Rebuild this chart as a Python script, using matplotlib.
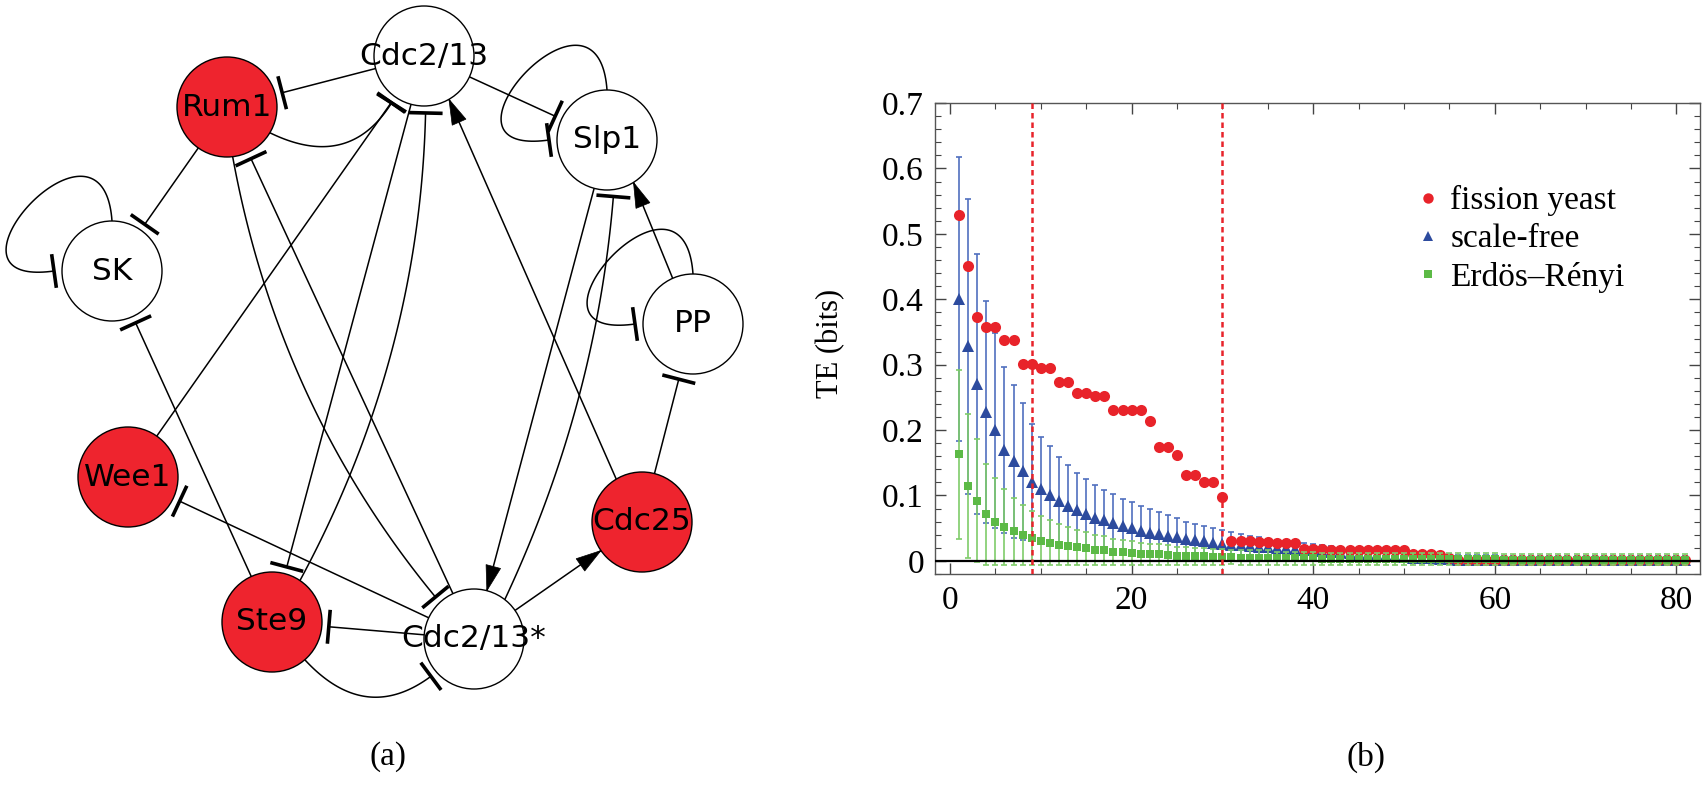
import numpy as np
import matplotlib
matplotlib.use("Agg")
import matplotlib.pyplot as plt
from matplotlib.patches import Circle, Polygon
from matplotlib.lines import Line2D
from matplotlib.ticker import MultipleLocator, FuncFormatter

plt.rcParams["font.family"] = ["Liberation Serif", "DejaVu Serif"]

# ---------------- (a) regulatory network, layout in image pixels ----------------
NODES = ["Cdc2/13", "Rum1", "Slp1", "SK", "PP", "Wee1", "Cdc25", "Ste9", "Cdc2/13*"]
NODE_X = [424, 227, 607, 112, 693, 128, 642, 272, 474]
NODE_Y = [56, 107, 140, 271, 324, 477, 522, 622, 639]
RED_NODES = ["Rum1", "Wee1", "Cdc25", "Ste9"]

# source, target, kind ('|' inhibition, '>' activation), source port, target port, bend
EDGES = [
    ("Cdc2/13", "Rum1", "|", None, None, 0),
    ("Cdc2/13", "Slp1", "|", None, None, 0),
    ("Rum1", "SK", "|", None, None, 0),
    ("Ste9", "SK", "|", None, None, 0),
    ("Wee1", "Cdc2/13", "|", None, None, 0),
    ("Cdc25", "Cdc2/13", ">", -121, 60, 0),
    ("Cdc2/13*", "Wee1", "|", None, None, 0),
    ("Cdc2/13*", "Ste9", "|", None, None, 0),
    ("Cdc2/13*", "Rum1", "|", None, None, 0),
    ("Cdc2/13*", "Cdc25", ">", None, None, 0),
    ("Slp1", "Cdc2/13*", ">", None, None, 0),
    ("Cdc25", "PP", "|", None, None, 0),
    ("PP", "Slp1", ">", -114, 58, 0),
    ("Cdc2/13", "Ste9", "|", None, None, 0),
    ("Ste9", "Cdc2/13", "|", -56, 88, 0.12),
    ("Rum1", "Cdc2/13", "|", 31, 125, 0.45),
    ("Rum1", "Cdc2/13*", "|", 83.5, -133, 0.13),
    ("Ste9", "Cdc2/13*", "|", 49, 138.5, 0.45),
    ("Cdc2/13*", "Slp1", "|", -52, 82, 0.09),
]
SELF_LOOPS = ["SK", "Slp1", "PP"]

# ---------------- (b) transfer entropy vs lag ----------------
SERIES = ["fission yeast", "scale-free", "Erdös–Rényi"]
LAG = np.arange(1, 82)

TE_YEAST = ([0.529, 0.451, 0.373, 0.357, 0.357, 0.337, 0.337, 0.301, 0.301, 0.295,
             0.295, 0.274, 0.274, 0.257, 0.257, 0.252, 0.252, 0.231, 0.231, 0.231,
             0.231, 0.214, 0.174, 0.174, 0.162, 0.132, 0.132, 0.121, 0.121, 0.098,
             0.031, 0.031, 0.030, 0.029, 0.029, 0.028, 0.027, 0.027, 0.018, 0.018,
             0.018, 0.017, 0.017, 0.017, 0.017, 0.017, 0.016, 0.016, 0.016, 0.016,
             0.011, 0.011, 0.010, 0.009, 0.005] + [0.002] * 26)

TE_SF = ([0.400, 0.328, 0.270, 0.228, 0.200, 0.170, 0.152, 0.137, 0.120, 0.110,
          0.100, 0.091, 0.084, 0.078, 0.071, 0.066, 0.062, 0.058, 0.054, 0.050,
          0.046, 0.043, 0.041, 0.038, 0.036, 0.034, 0.032, 0.030, 0.028, 0.026,
          0.025, 0.024, 0.023, 0.022, 0.021, 0.020, 0.019, 0.018, 0.017, 0.016,
          0.015, 0.014, 0.013, 0.012, 0.011, 0.010, 0.009, 0.008, 0.007, 0.006,
          0.005, 0.004, 0.004, 0.003, 0.003] + [0.002] * 15 + [0.001] * 11)
ERR_SF = ([0.217, 0.225, 0.199, 0.170, 0.149, 0.127, 0.117, 0.105, 0.089, 0.080,
           0.075, 0.068, 0.063, 0.057, 0.054, 0.050, 0.047, 0.044, 0.041, 0.040,
           0.038, 0.036, 0.034, 0.032, 0.029, 0.026, 0.025, 0.024, 0.022, 0.021,
           0.019, 0.017, 0.015, 0.014, 0.013, 0.012, 0.011, 0.011, 0.010, 0.010]
          + [0.009] * 5 + [0.008] * 5 + [0.007] * 10 + [0.006] * 21)

TE_ER = ([0.163, 0.115, 0.092, 0.071, 0.060, 0.052, 0.045, 0.040, 0.035, 0.031,
          0.028, 0.025, 0.023, 0.021, 0.019, 0.017, 0.016, 0.014, 0.013, 0.012,
          0.011, 0.010, 0.010, 0.009, 0.008, 0.008, 0.007, 0.007, 0.006, 0.006,
          0.006, 0.005, 0.005, 0.005, 0.005, 0.004, 0.004, 0.004, 0.004, 0.004]
         + [0.003] * 20 + [0.002] * 21)
ERR_ER = ([0.129, 0.110, 0.094, 0.077, 0.066, 0.058, 0.051, 0.046, 0.041, 0.037,
           0.034, 0.031, 0.029, 0.027, 0.025, 0.023, 0.022, 0.020, 0.019, 0.018,
           0.017, 0.016, 0.016, 0.015, 0.014, 0.014, 0.013, 0.013, 0.012, 0.012]
          + [0.011] * 5 + [0.010] * 5 + [0.009] * 20 + [0.008] * 21)

PHASE_LAGS = [9, 30]

RED_C, BLUE_C, GREEN_C = "#e8232a", "#2d4b9e", "#5cba46"
BLUE_E, GREEN_E = "#5070bf", "#7fcc6a"
NODE_RED = "#ee242e"

R, GAP, BAR = 50, 7, 17
HEAD_L, HEAD_W = 25, 15


def unit(a):
    r = np.deg2rad(a)
    return np.array([np.cos(r), np.sin(r)])


def quad(p0, c, p2, n=80):
    t = np.linspace(0, 1, n)[:, None]
    return (1 - t) ** 2 * p0 + 2 * (1 - t) * t * c + t ** 2 * p2


def cubic(p0, p1, p2, p3, n=100):
    t = np.linspace(0, 1, n)[:, None]
    return (1 - t) ** 3 * p0 + 3 * (1 - t) ** 2 * t * p1 + 3 * (1 - t) * t ** 2 * p2 + t ** 3 * p3


def draw_end(ax, p, t, kind):
    n = np.array([-t[1], t[0]])
    if kind == "|":
        seg = np.array([p - BAR * n, p + BAR * n])
        ax.plot(seg[:, 0], seg[:, 1], color="black", lw=2.6, solid_capstyle="butt", zorder=3)
    else:
        base = p - HEAD_L * t
        ax.add_patch(Polygon([p, base + HEAD_W / 2 * n, base - HEAD_W / 2 * n], closed=True,
                             fc="black", ec="black", lw=0.5, zorder=3))


fig = plt.figure(figsize=(17.08, 7.85), dpi=100)
fig.patch.set_facecolor("white")

net = fig.add_axes([0, 0, 1, 1])
net.set_xlim(0, 1708)
net.set_ylim(785, 0)
net.axis("off")

pos = {n: np.array([x, y], float) for n, x, y in zip(NODES, NODE_X, NODE_Y)}

for src, dst, kind, a_s, a_t, bend in EDGES:
    cs, ct = pos[src], pos[dst]
    if a_s is None:
        a_s = np.degrees(np.arctan2(ct[1] - cs[1], ct[0] - cs[0]))
        a_t = a_s + 180
    p0 = cs + R * unit(a_s)
    p2 = ct + R * unit(a_t)
    d = p2 - p0
    dist = np.hypot(*d)
    c = (p0 + p2) / 2 + bend * dist * np.array([-d[1], d[0]]) / dist
    t_end = (p2 - c) / np.hypot(*(p2 - c))
    if kind == "|":
        p2 = p2 - GAP * t_end
    curve = quad(p0, c, p2)
    net.plot(curve[:, 0], curve[:, 1], color="black", lw=1.1, zorder=1)
    draw_end(net, p2, t_end, kind)

for name in SELF_LOOPS:
    c0 = pos[name]
    p0 = c0 + R * unit(-90)
    p3 = c0 + (R + 8) * unit(180)
    p1 = p0 + 131 * unit(-94)
    p2 = p3 + 133 * unit(172)
    curve = cubic(p0, p1, p2, p3)
    net.plot(curve[:, 0], curve[:, 1], color="black", lw=1.1, zorder=1)
    draw_end(net, p3, (p3 - p2) / np.hypot(*(p3 - p2)), "|")

for name in NODES:
    fc = NODE_RED if name in RED_NODES else "white"
    net.add_patch(Circle(pos[name], R, fc=fc, ec="black", lw=1.0, zorder=2))
    net.text(*pos[name], name, ha="center", va="center", fontsize=22.5,
             family="DejaVu Sans", zorder=4)

net.text(388, 757, "(a)", ha="center", va="center", fontsize=24)
net.text(1366, 757, "(b)", ha="center", va="center", fontsize=24)

# ---------------- right panel ----------------
ax = fig.add_axes([935 / 1708, 211 / 785, 765 / 1708, 471 / 785])
ax.errorbar(LAG, TE_SF, yerr=ERR_SF, fmt="none", ecolor=BLUE_E, elinewidth=1.2,
            capsize=2.4, capthick=1.2, zorder=2)
ax.plot(LAG, TE_SF, "^", color=BLUE_C, ms=8.5, mew=0, zorder=2.5)
ax.plot(LAG, TE_YEAST, "o", color=RED_C, ms=8, mew=0, zorder=3)
ax.errorbar(LAG, TE_ER, yerr=ERR_ER, fmt="none", ecolor=GREEN_E, elinewidth=1.2,
            capsize=2.4, capthick=1.2, zorder=4)
ax.plot(LAG, TE_ER, "s", color=GREEN_C, ms=6, mew=0, zorder=4.5)

ax.axhline(0, color="black", lw=1.6, zorder=5)
for lag in PHASE_LAGS:
    ax.axvline(lag, color=RED_C, lw=1.8, ls=(0, (2.2, 1.6)), zorder=6)

ax.set_xlim(-1.65, 82.6)
ax.set_ylim(-0.02, 0.7)
ax.set_xticks([0, 20, 40, 60, 80])
ax.xaxis.set_minor_locator(MultipleLocator(5))
ax.set_yticks([0, 0.1, 0.2, 0.3, 0.4, 0.5, 0.6, 0.7])
ax.yaxis.set_minor_locator(MultipleLocator(0.02))
ax.yaxis.set_major_formatter(FuncFormatter(lambda v, _: "0" if abs(v) < 1e-9 else f"{v:.1f}"))
ax.tick_params(which="both", direction="in", top=True, right=True, colors="#444",
               labelcolor="black", labelsize=24, pad=8)
ax.tick_params(which="major", length=8, width=1)
ax.tick_params(which="minor", length=4, width=0.8)
for sp in ax.spines.values():
    sp.set_color("#555")
    sp.set_linewidth(1.0)

ax.text(-0.137, 0.49, "TE (bits)", rotation=90, ha="center", va="center",
        fontsize=22, transform=ax.transAxes)

handles = [Line2D([], [], ls="none", marker="o", ms=7.5, mew=0, color=RED_C),
           Line2D([], [], ls="none", marker="^", ms=7.5, mew=0, color=BLUE_C),
           Line2D([], [], ls="none", marker="s", ms=5.5, mew=0, color=GREEN_C)]
ax.legend(handles, SERIES, loc="upper left", bbox_to_anchor=(0.632, 0.825), frameon=False,
          fontsize=24, handlelength=0.6, handletextpad=0.35, labelspacing=0.22,
          borderpad=0, borderaxespad=0)

fig.savefig("out.png", dpi=100, facecolor="white")
